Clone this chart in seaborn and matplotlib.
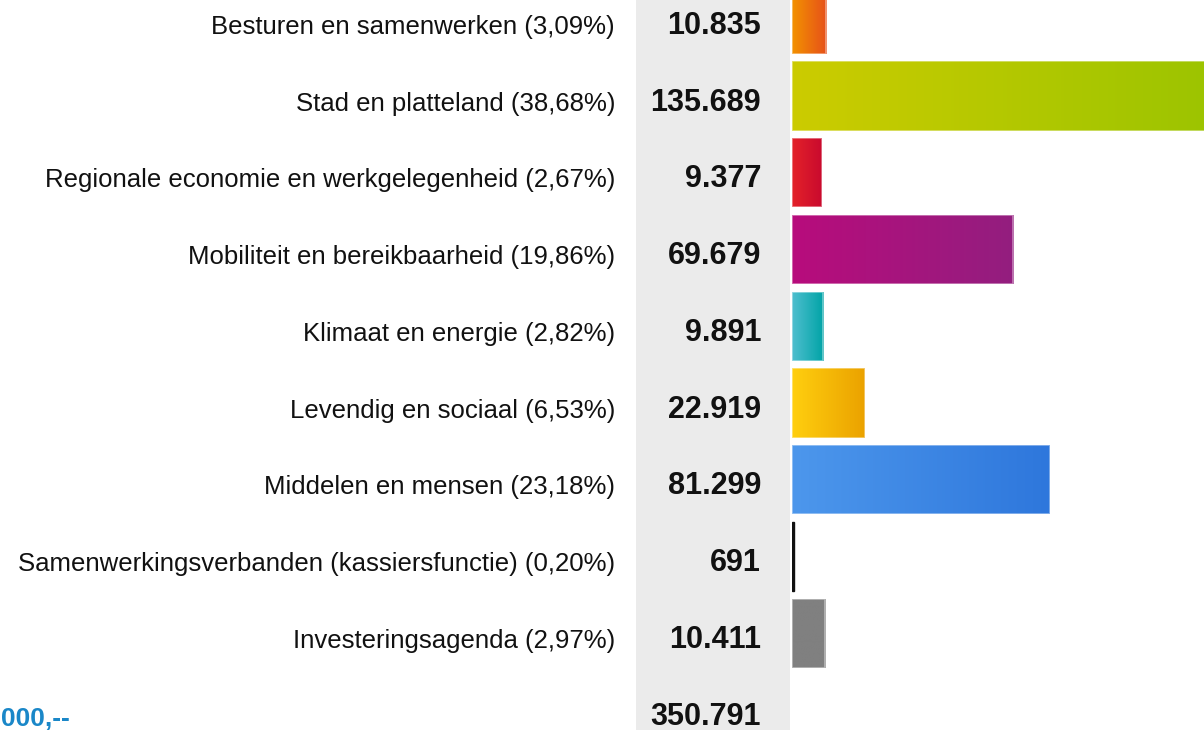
import numpy as np
import pandas as pd
import matplotlib
matplotlib.use("Agg")
import matplotlib.pyplot as plt
import seaborn as sns
from matplotlib.colors import LinearSegmentedColormap

# Budget per programme (x 1.000 euro)
categories = [
    "Besturen en samenwerken",
    "Stad en platteland",
    "Regionale economie en werkgelegenheid",
    "Mobiliteit en bereikbaarheid",
    "Klimaat en energie",
    "Levendig en sociaal",
    "Middelen en mensen",
    "Samenwerkingsverbanden (kassiersfunctie)",
    "Investeringsagenda",
]
amounts = [10835, 135689, 9377, 69679, 9891, 22919, 81299, 691, 10411]

# Left/right colour of each bar's horizontal gradient
grad_left = ["#f39200", "#cccc00", "#e42229", "#b80c7c", "#4fbfcf",
             "#ffcf0f", "#4d97ec", "#111111", "#808080"]
grad_right = ["#e6501a", "#9bc400", "#c90a2e", "#931e7f", "#00a3a6",
              "#eba200", "#2e77dc", "#111111", "#808080"]

total = sum(amounts)


def nl_int(v):
    return f"{v:,}".replace(",", ".")


def nl_pct(v):
    return f"{v:.2f}".replace(".", ",")


sns.set_theme(style="white")
plt.rcParams["font.family"] = ["Liberation Sans", "DejaVu Sans"]

W, H = 1204, 730
fig = plt.figure(figsize=(W / 100, H / 100), dpi=100)

# Row geometry: rows 0..8 are bars, row 9 is the total line
row0_px, row_px = 19.25, 76.75
ylim = ((H - row0_px) / row_px, -row0_px / row_px)

# Background layer in pixel x-coordinates for the text and the grey column
bg = fig.add_axes([0, 0, 1, 1])
bg.set_xlim(0, W)
bg.set_ylim(*ylim)
bg.axis("off")
bg.axvspan(636, 790, color="#ebebeb", lw=0)

# Bar layer
bar_left = 792
px_per_unit = 0.003172
ax = fig.add_axes([bar_left / W, 0, (W - bar_left) / W, 1])
ax.set_facecolor("none")

df = pd.DataFrame({"categorie": categories, "bedrag": amounts})
sns.barplot(data=df, x="bedrag", y="categorie", hue="categorie",
            palette=grad_left, legend=False, orient="h", width=0.9, ax=ax)
ax.axis("off")

# Replace the flat fills with left-to-right gradients
for patch, c0, c1 in zip(ax.patches, grad_left, grad_right):
    x0, y0 = patch.get_x(), patch.get_y()
    w, h = patch.get_width(), patch.get_height()
    patch.set_zorder(3)
    if c0 == c1 == "#111111":
        patch.set_facecolor(c0)
        patch.set_edgecolor(c0)
        patch.set_linewidth(1.0)
        continue
    cmap = LinearSegmentedColormap.from_list("g", [c0, c1])
    grad = np.linspace(0, 1, 256).reshape(1, -1)
    im = ax.imshow(grad, cmap=cmap, aspect="auto", interpolation="bilinear",
                   extent=(x0, x0 + w, y0 + h, y0), zorder=2)
    im.set_clip_path(patch)
    patch.set_facecolor("none")
    patch.set_edgecolor((1, 1, 1, 0.45))
    patch.set_linewidth(1.2)
ax.set_xlim(0, (W - bar_left) / px_per_unit)
ax.set_ylim(*ylim)

# Labels and values
for i, (name, v) in enumerate(zip(categories, amounts)):
    pct = 100 * v / total
    bg.text(615, i + 0.19, f"{name} ({nl_pct(pct)}%)", ha="right",
            va="baseline", fontsize=18.5, color="#111111")
    bg.text(761, i + 0.19, nl_int(v), ha="right", va="baseline",
            fontsize=22, fontweight="bold", color="#111111")

# Total line
n = len(categories)
bg.text(761, n + 0.20, nl_int(total), ha="right", va="baseline",
        fontsize=22, fontweight="bold", color="#111111")
bg.text(1, n + 0.21, "000,--", ha="left", va="baseline",
        fontsize=19, fontweight="bold", color="#1a87c8")

fig.savefig("out.png", dpi=100)
